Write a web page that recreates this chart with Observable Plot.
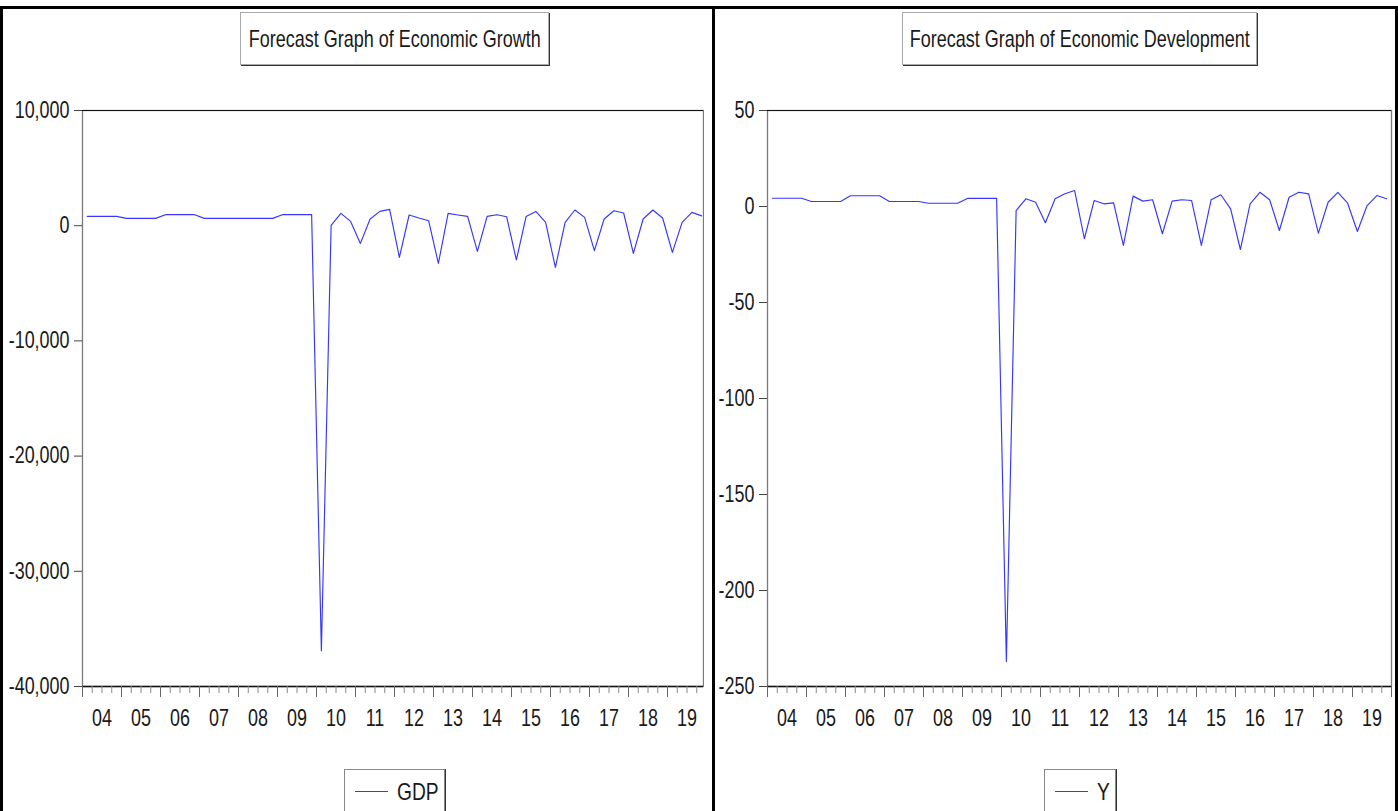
<!DOCTYPE html>
<html>
<head>
<meta charset="utf-8">
<script src="https://cdn.jsdelivr.net/npm/d3@7"></script>
<script src="https://cdn.jsdelivr.net/npm/@observablehq/plot@0.6"></script>
<style>
  html, body { margin: 0; padding: 0; background: #fff; }
  #root { position: relative; width: 1398px; height: 811px; overflow: hidden; background: #fff;
    font-family: "Liberation Sans", Arial, sans-serif; }
  #root svg { position: absolute; top: 0; }
  .title { position: absolute; top: 12px; height: 53px; box-sizing: border-box;
    border: 1px solid #aaa; box-shadow: 1px 1px 0 #333;
    display: flex; align-items: center; justify-content: center;
    font-size: 24px; color: #1a1a1a; background: #fff; white-space: nowrap; }
  .title span { display: inline-block; transform: scaleX(0.75); }
  .legend { position: absolute; top: 769px; height: 60px; box-sizing: border-box;
    border: 1px solid #888; box-shadow: 1px 0 0 #333;
    font-size: 24px; color: #1a1a1a; background: #fff; white-space: nowrap; }
  .legend .sw { position: absolute; top: 21px; width: 33px; height: 0; border-top: 1.5px solid #3636ff; }
  .legend .lb { position: absolute; top: 8px; transform: scaleX(0.8); transform-origin: 0 0; }
  .bar { position: absolute; background: #000; }
</style>
</head>
<body>
<div id="root"></div>
<script>
// ---- data -------------------------------------------------------------
const years = d3.range(2004, 2020);                       // 2004 ... 2019
const yearLabels = ["04","05","06","07","08","09","10","11","12","13","14","15","16","17","18","19"];
const quarters = [1, 2, 3, 4];

// Forecast of GDP (quarterly, 2004Q1 - 2019Q4)
const gdp = [
  807, 807, 807, 807,
  634, 634, 634, 634,
  955, 955, 955, 955,
  634, 634, 634, 634,
  634, 634, 634, 634,
  955, 955, 955, 955,
  -36900, 20, 1068, 373,
  -1536, 580, 1241, 1415,
  -2752, 929, 668, 434,
  -3273, 1068, 929, 807,
  -2231, 807, 955, 781,
  -2977, 807, 1241, 286,
  -3620, 286, 1363, 720,
  -2170, 580, 1302, 1102,
  -2405, 580, 1363, 668,
  -2318, 286, 1154, 850
];

// Forecast of Y (quarterly, 2004Q1 - 2019Q4)
const yDev = [
  4.3, 4.3, 4.3, 4.3,
  2.6, 2.6, 2.6, 2.6,
  5.6, 5.6, 5.6, 5.6,
  2.6, 2.6, 2.6, 2.6,
  1.7, 1.7, 1.7, 1.7,
  4.2, 4.2, 4.2, 4.2,
  -237, -2.1, 4.0, 2.2,
  -8.5, 4.0, 6.6, 8.3,
  -16.8, 3.1, 1.4, 1.9,
  -20.3, 5.4, 2.8, 3.5,
  -14.2, 2.8, 3.5, 3.1,
  -20.3, 3.5, 6.1, -1.2,
  -22.4, 1.4, 7.4, 3.5,
  -12.5, 4.8, 7.4, 6.6,
  -13.9, 2.2, 7.4, 1.7,
  -13.0, 0.5, 5.7, 4.0
];

const gdpTicks = [10000, 0, -10000, -20000, -30000, -40000];
const yTicks = [50, 0, -50, -100, -150, -200, -250];

const titles = ["Forecast Graph of Economic Growth", "Forecast Graph of Economic Development"];
const seriesNames = ["GDP", "Y"];

// ---- helpers ----------------------------------------------------------
const periods = [];
for (const yr of years) for (const q of quarters) periods.push(yr + (q - 0.5) / 4);
const quarterTicks = [];
for (const yr of years) for (const q of [1, 2, 3]) quarterTicks.push(yr + q / 4);
const yearBounds = d3.range(2004, 2021);
const yearMids = years.map(y => y + 0.5);
const fmt = d => d3.format(",")(d).replace("\u2212", "-");
const FONT = '"Liberation Sans", Arial, sans-serif';
const NARROW = 0.78;

function panel({values, yDomain, ticks, width, marginLeft, marginRight, xDomain}) {
  const data = periods.map((t, i) => ({t, v: values[i]}));
  return Plot.plot({
    width, height: 811,
    marginLeft, marginRight, marginTop: 110, marginBottom: 125,
    x: {domain: xDomain, label: null},
    y: {domain: yDomain, label: null},
    style: {fontFamily: FONT, fontSize: "23px", color: "#1a1a1a", background: "transparent", maxWidth: "none"},
    marks: [
      Plot.frame({stroke: "#7a7a7a", strokeWidth: 1.3}),
      Plot.ruleY([yDomain[1]], {stroke: "#111", strokeWidth: 1.2}),
      Plot.ruleY([yDomain[0]], {stroke: "#111", strokeWidth: 1.3}),
      Plot.axisY({ticks, tickSize: 8, tickPadding: 5, tickFormat: fmt, stroke: "#444", label: null}),
      Plot.axisX({ticks: quarterTicks, tickSize: 7, tickFormat: () => "", stroke: "#888", label: null}),
      Plot.axisX({ticks: yearBounds, tickSize: 11, tickFormat: () => "", stroke: "#666", label: null}),
      Plot.axisX({ticks: yearMids, tickSize: 0, tickPadding: 23, label: null,
                  tickFormat: d => yearLabels[years.indexOf(Math.floor(d))]}),
      Plot.line(data, {x: "t", y: "v", stroke: "#3636ff", strokeWidth: 1.15})
    ]
  });
}

// condense SVG text horizontally about its anchor (narrow face look)
function condense(svg) {
  const NS = "http://www.w3.org/2000/svg";
  Array.from(svg.querySelectorAll("text")).forEach(t => {
    if (!t.textContent) return;
    const r = t.getBoundingClientRect();
    const anchor = getComputedStyle(t).textAnchor;
    const sx = anchor === "end" ? r.right : anchor === "middle" ? (r.left + r.right) / 2 : r.left;
    const pm = t.parentNode.getScreenCTM();
    const ax = (sx - pm.e) / pm.a;
    const g = document.createElementNS(NS, "g");
    g.setAttribute("transform", `translate(${ax},0) scale(${NARROW},1) translate(${-ax},0)`);
    t.parentNode.insertBefore(g, t);
    g.appendChild(t);
  });
}

const root = document.getElementById("root");

const left = panel({values: gdp, yDomain: [-40000, 10000], ticks: gdpTicks,
  width: 704, marginLeft: 82, marginRight: 1, xDomain: [2004, 2019.923]});
left.style.left = "0px";
root.appendChild(left);
condense(left);

const right = panel({values: yDev, yDomain: [-250, 50], ticks: yTicks,
  width: 698, marginLeft: 67, marginRight: 7, xDomain: [2004, 2020]});
right.style.left = "700px";
root.appendChild(right);
condense(right);

// titles
function addTitle(text, x, w) {
  const d = document.createElement("div");
  d.className = "title";
  d.style.left = x + "px"; d.style.width = w + "px";
  const s = document.createElement("span");
  s.textContent = text;
  d.appendChild(s);
  root.appendChild(d);
}
addTitle(titles[0], 240, 309);
addTitle(titles[1], 902, 355);

// legends
function addLegend(text, x, w) {
  const d = document.createElement("div");
  d.className = "legend";
  d.style.left = x + "px"; d.style.width = w + "px";
  const sw = document.createElement("div"); sw.className = "sw"; sw.style.left = "10px";
  const lb = document.createElement("div"); lb.className = "lb"; lb.style.left = "52px";
  lb.textContent = text;
  d.appendChild(sw); d.appendChild(lb);
  root.appendChild(d);
}
addLegend(seriesNames[0], 344, 101);
addLegend(seriesNames[1], 1044, 72);

// panel borders
function bar(x, y, w, h, c) {
  const b = document.createElement("div");
  b.className = "bar";
  Object.assign(b.style, {left: x + "px", top: y + "px", width: w + "px", height: h + "px"});
  if (c) b.style.background = c;
  root.appendChild(b);
}
bar(0, 6, 1398, 3);
bar(0, 6, 2.5, 805);
bar(712, 6, 3, 805);
bar(1395, 6, 3, 805);
</script>
</body>
</html>
